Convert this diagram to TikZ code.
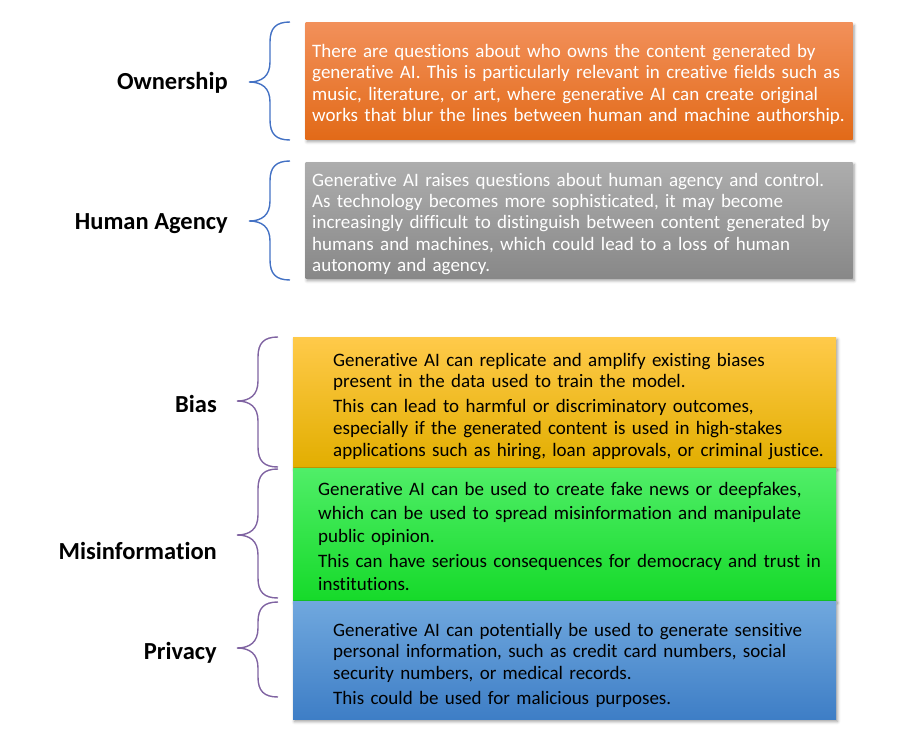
\documentclass[tikz,border=0pt]{standalone}
\usepackage{fontspec}
\setmainfont{Carlito}[Ligatures=NoCommon]
\usetikzlibrary{shadows.blur}
\definecolor{orA}{HTML}{F2905A}
\definecolor{orB}{HTML}{F47B25}
\definecolor{orC}{HTML}{E26A18}
\definecolor{grA}{HTML}{ADADAD}
\definecolor{grB}{HTML}{9A9A9A}
\definecolor{grC}{HTML}{888888}
\definecolor{yeA}{HTML}{FFCA4A}
\definecolor{yeB}{HTML}{FFC000}
\definecolor{yeC}{HTML}{E2AE00}
\definecolor{gnA}{HTML}{50EE68}
\definecolor{gnB}{HTML}{26EE3C}
\definecolor{gnC}{HTML}{16DA2A}
\definecolor{blA}{HTML}{70A8DE}
\definecolor{blB}{HTML}{5B98D6}
\definecolor{blC}{HTML}{3E7EC6}
\definecolor{braceblue}{HTML}{4472C4}
\definecolor{bracepurple}{HTML}{8064A2}
\newcommand\mybrc[5]{%
  \draw[#5] (#1,#2) .. controls ({#1-14},#2) and ({#1-20},{#2+6}) .. ({#1-20},{#2+20})
    -- ({#1-20},{#3-20}) .. controls ({#1-20},{#3-6}) and ({#1-28},#3) .. ({#1-41},#3)
    .. controls ({#1-28},#3) and ({#1-20},{#3+6}) .. ({#1-20},{#3+20})
    -- ({#1-20},{#4-20}) .. controls ({#1-20},{#4-6}) and ({#1-14},#4) .. (#1,#4);}
\begin{document}
\begin{tikzpicture}[x=1bp,y=-1bp,
  box/.style={inner sep=0pt, draw=none,
    blur shadow={shadow xshift=1.5bp, shadow yshift=-2.5bp, shadow blur radius=3bp}},
  wtext/.style={anchor=base west, inner sep=0pt, text width=570bp, align=left, text=white},
  btext/.style={anchor=base west, inner sep=0pt, text width=570bp, align=left, text=black},
  lab/.style={anchor=base east, inner sep=0pt, font=\fontsize{24.5bp}{28bp}\selectfont\bfseries},
  bra/.style={draw=braceblue, line width=1.4bp},
  brp/.style={draw=bracepurple, line width=1.4bp}]
\useasboundingbox (0,0) rectangle (906,737);

% boxes
\node[box, top color=orA, middle color=orB, bottom color=orC,
  minimum width=547bp, minimum height=116bp] (own) at (579,81) {};
\node[box, top color=grA, middle color=grB, bottom color=grC,
  minimum width=547bp, minimum height=116bp] (hum) at (579,220) {};
\node[box, top color=yeA, middle color=yeB, bottom color=yeC,
  minimum width=543bp, minimum height=130bp] (bias) at (564.5,402) {};
\node[box, top color=gnA, middle color=gnB, bottom color=gnC,
  minimum width=543bp, minimum height=132bp] (mis) at (564.5,534) {};
\node[box, top color=blA, middle color=blB, bottom color=blC,
  minimum width=543bp, minimum height=118bp] (priv) at (564.5,660) {};

% texts
\node[wtext, font=\fontsize{19bp}{21.4bp}\selectfont] (ownt) at (312,57.5)
 {There are questions about who owns the content generated by\\
  generative AI. This is particularly relevant in creative fields such as\\
  music, literature, or art, where generative AI can create original\\
  works that blur the lines between human and machine authorship.};
\node[wtext, font=\fontsize{19bp}{21.2bp}\selectfont] (humt) at (312,186.5)
 {Generative AI raises questions about human agency and control.\\
  As technology becomes more sophisticated, it may become\\
  increasingly difficult to distinguish between content generated by\\
  humans and machines, which could lead to a loss of human\\
  autonomy and agency.};
\node[btext, font=\fontsize{19bp}{21.6bp}\selectfont] (biast1) at (333,366)
 {Generative AI can replicate and amplify existing biases\\
  present in the data used to train the model.};
\node[btext, font=\fontsize{19bp}{22bp}\selectfont] (biast2) at (333,412.5)
 {This can lead to harmful or discriminatory outcomes,\\
  especially if the generated content is used in high-stakes\\
  applications such as hiring, loan approvals, or criminal justice.};
\node[btext, font=\fontsize{19bp}{23.5bp}\selectfont] (mist1) at (318,495.5)
 {Generative AI can be used to create fake news or deepfakes,\\
  which can be used to spread misinformation and manipulate\\
  public opinion.};
\node[btext, font=\fontsize{19bp}{23.5bp}\selectfont] (mist2) at (318,567)
 {This can have serious consequences for democracy and trust in\\
  institutions.};
\node[btext, font=\fontsize{19bp}{21.5bp}\selectfont] (privt1) at (333,636)
 {Generative AI can potentially be used to generate sensitive\\
  personal information, such as credit card numbers, social\\
  security numbers, or medical records.};
\node[btext, font=\fontsize{19bp}{21.5bp}\selectfont] (privt2) at (333,704)
 {This could be used for malicious purposes.};

% labels
\node[lab] (l1) at (228,90) {Ownership};
\node[lab] (l2) at (228,229) {Human Agency};
\node[lab] (l3) at (217,412) {Bias};
\node[lab] (l4) at (217,559.5) {Misinformation};
\node[lab] (l5) at (217,659) {Privacy};

% braces
\mybrc{290}{22}{82}{140}{bra}
\mybrc{290}{161}{221}{280}{bra}
\mybrc{278}{337}{401}{467}{brp}
\mybrc{278}{469}{535}{598}{brp}
\mybrc{278}{602}{648}{697}{brp}
\end{tikzpicture}
\end{document}
